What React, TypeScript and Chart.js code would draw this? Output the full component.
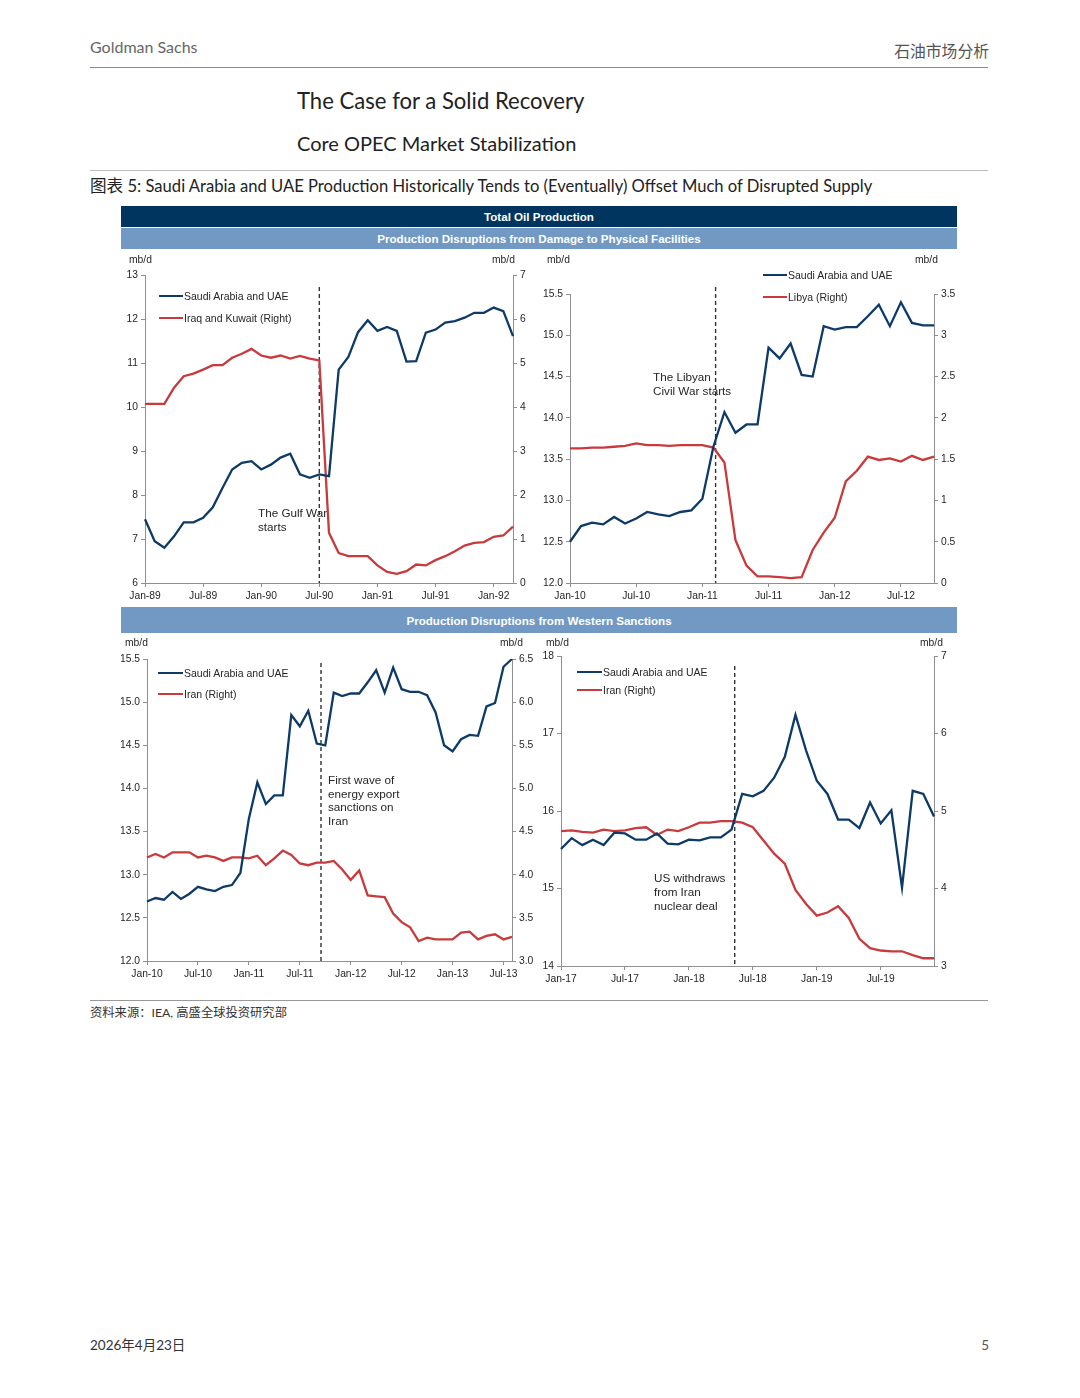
import React, { useEffect, useRef } from "react";
import { Chart, registerables } from "chart.js";

Chart.register(...registerables);

// ---------------- DATA ----------------
const gulfMonths = [
  "Jan-89","Feb-89","Mar-89","Apr-89","May-89","Jun-89","Jul-89","Aug-89","Sep-89","Oct-89","Nov-89","Dec-89",
  "Jan-90","Feb-90","Mar-90","Apr-90","May-90","Jun-90","Jul-90","Aug-90","Sep-90","Oct-90","Nov-90","Dec-90",
  "Jan-91","Feb-91","Mar-91","Apr-91","May-91","Jun-91","Jul-91","Aug-91","Sep-91","Oct-91","Nov-91","Dec-91",
  "Jan-92","Feb-92","Mar-92",
];
const gulfSaudiUae = [
  7.45, 6.95, 6.8, 7.06, 7.38, 7.38, 7.48, 7.72, 8.16, 8.58, 8.73, 8.77,
  8.58, 8.69, 8.85, 8.94, 8.47, 8.39, 8.47, 8.43, 10.85, 11.14, 11.7, 11.97,
  11.73, 11.82, 11.73, 11.03, 11.04, 11.69, 11.76, 11.92, 11.95, 12.03, 12.14, 12.14,
  12.26, 12.18, 11.61,
];
const gulfIraqKuwait = [
  4.07, 4.07, 4.07, 4.44, 4.7, 4.76, 4.85, 4.95, 4.95, 5.12, 5.21, 5.32,
  5.17, 5.12, 5.17, 5.1, 5.16, 5.1, 5.06, 1.14, 0.68, 0.61, 0.61, 0.61,
  0.4, 0.25, 0.21, 0.27, 0.42, 0.4, 0.52, 0.61, 0.72, 0.85, 0.91, 0.93,
  1.05, 1.08, 1.28,
];
const gulfLeftTicks = [6, 7, 8, 9, 10, 11, 12, 13];
const gulfRightTicks = [0, 1, 2, 3, 4, 5, 6, 7];
const gulfEvent = 18;

const libyaMonths = [
  "Jan-10","Feb-10","Mar-10","Apr-10","May-10","Jun-10","Jul-10","Aug-10","Sep-10","Oct-10","Nov-10","Dec-10",
  "Jan-11","Feb-11","Mar-11","Apr-11","May-11","Jun-11","Jul-11","Aug-11","Sep-11","Oct-11","Nov-11","Dec-11",
  "Jan-12","Feb-12","Mar-12","Apr-12","May-12","Jun-12","Jul-12","Aug-12","Sep-12","Oct-12",
];
const libyaSaudiUae = [
  12.5, 12.69, 12.73, 12.71, 12.8, 12.72, 12.78, 12.86, 12.83, 12.81, 12.86, 12.88,
  13.02, 13.65, 14.07, 13.82, 13.92, 13.92, 14.85, 14.72, 14.9, 14.52, 14.5, 15.11,
  15.07, 15.1, 15.1, 15.23, 15.37, 15.11, 15.4, 15.15, 15.12, 15.12,
];
const libyaLibya = [
  1.63, 1.63, 1.64, 1.64, 1.65, 1.66, 1.69, 1.67, 1.67, 1.66, 1.67, 1.67,
  1.67, 1.64, 1.46, 0.52, 0.21, 0.08, 0.08, 0.07, 0.06, 0.07, 0.4, 0.61,
  0.79, 1.23, 1.36, 1.53, 1.49, 1.51, 1.47, 1.54, 1.49, 1.53,
];
const libyaLeftTicks = [12, 12.5, 13, 13.5, 14, 14.5, 15, 15.5];
const libyaRightTicks = [0, 0.5, 1, 1.5, 2, 2.5, 3, 3.5];
const libyaEvent = 13.2;

const sanctionsMonths = [
  "Jan-10","Feb-10","Mar-10","Apr-10","May-10","Jun-10","Jul-10","Aug-10","Sep-10","Oct-10","Nov-10","Dec-10",
  "Jan-11","Feb-11","Mar-11","Apr-11","May-11","Jun-11","Jul-11","Aug-11","Sep-11","Oct-11","Nov-11","Dec-11",
  "Jan-12","Feb-12","Mar-12","Apr-12","May-12","Jun-12","Jul-12","Aug-12","Sep-12","Oct-12","Nov-12","Dec-12",
  "Jan-13","Feb-13","Mar-13","Apr-13","May-13","Jun-13","Jul-13","Aug-13",
];
const sanctionsSaudiUae = [
  12.69, 12.73, 12.71, 12.8, 12.72, 12.78, 12.86, 12.83, 12.81, 12.86, 12.88, 13.02,
  13.65, 14.07, 13.82, 13.92, 13.92, 14.85, 14.72, 14.9, 14.52, 14.5, 15.11, 15.07,
  15.1, 15.1, 15.23, 15.37, 15.11, 15.4, 15.15, 15.12, 15.12, 15.08, 14.88, 14.5,
  14.43, 14.57, 14.62, 14.61, 14.95, 14.99, 15.41, 15.5,
];
const sanctionsIran = [
  4.2, 4.24, 4.2, 4.26, 4.26, 4.26, 4.2, 4.22, 4.2, 4.16, 4.2, 4.2,
  4.19, 4.22, 4.11, 4.19, 4.28, 4.23, 4.13, 4.11, 4.14, 4.14, 4.16, 4.06,
  3.94, 4.05, 3.76, 3.75, 3.74, 3.55, 3.45, 3.39, 3.23, 3.27, 3.25, 3.25,
  3.25, 3.33, 3.34, 3.25, 3.29, 3.31, 3.25, 3.28,
];
const sanctionsLeftTicks = [12, 12.5, 13, 13.5, 14, 14.5, 15, 15.5];
const sanctionsRightTicks = [3, 3.5, 4, 4.5, 5, 5.5, 6, 6.5];
const sanctionsEvent = 20.5;

const dealMonths = [
  "Jan-17","Feb-17","Mar-17","Apr-17","May-17","Jun-17","Jul-17","Aug-17","Sep-17","Oct-17","Nov-17","Dec-17",
  "Jan-18","Feb-18","Mar-18","Apr-18","May-18","Jun-18","Jul-18","Aug-18","Sep-18","Oct-18","Nov-18","Dec-18",
  "Jan-19","Feb-19","Mar-19","Apr-19","May-19","Jun-19","Jul-19","Aug-19","Sep-19","Oct-19","Nov-19","Dec-19",
];
const dealSaudiUae = [
  15.51, 15.65, 15.56, 15.63, 15.56, 15.72, 15.71, 15.63, 15.63, 15.71, 15.58, 15.57,
  15.63, 15.62, 15.66, 15.66, 15.76, 16.22, 16.19, 16.26, 16.43, 16.7, 17.24, 16.78,
  16.39, 16.22, 15.89, 15.89, 15.78, 16.11, 15.84, 16.01, 15.01, 16.26, 16.22, 15.93,
];
const dealIran = [
  4.74, 4.75, 4.73, 4.72, 4.76, 4.74, 4.75, 4.78, 4.79, 4.69, 4.76, 4.74,
  4.79, 4.85, 4.85, 4.87, 4.87, 4.85, 4.79, 4.62, 4.45, 4.32, 3.98, 3.8,
  3.65, 3.69, 3.77, 3.62, 3.35, 3.23, 3.2, 3.19, 3.19, 3.14, 3.1, 3.1,
];
const dealLeftTicks = [14, 15, 16, 17, 18];
const dealRightTicks = [3, 4, 5, 6, 7];
const dealEvent = 16.3;

// ---------------- STYLE ----------------
const BLUE = "#0E3A68";
const RED = "#C83A3C";
const AXIS = "#8f8f8f";
const TXT = "#262626";
const CHART_FONT = "'Liberation Sans', Arial, Helvetica, sans-serif";
const PAGE_FONT = "Lato, 'Noto Sans CJK SC', sans-serif";

type Panel = {
  box: { x: number; y: number; w: number; h: number };
  padTop: number;
  leftW: number;
  rightW: number;
  bottomH: number;
  labels: string[];
  blue: number[];
  red: number[];
  leftTicks: number[];
  rightTicks: number[];
  leftFmt: (v: number) => string;
  rightFmt: (v: number) => string;
  event: number;
  dashTop: number;
};

const fix1 = (v: number) => v.toFixed(1);
const plain = (v: number) => String(v);

const panels: Panel[] = [
  {
    box: { x: 121, y: 250, w: 417, h: 355 },
    padTop: 25, leftW: 24, rightW: 25, bottomH: 22,
    labels: gulfMonths, blue: gulfSaudiUae, red: gulfIraqKuwait,
    leftTicks: gulfLeftTicks, rightTicks: gulfRightTicks,
    leftFmt: plain, rightFmt: plain, event: gulfEvent, dashTop: 287,
  },
  {
    box: { x: 538, y: 250, w: 420, h: 355 },
    padTop: 44, leftW: 32, rightW: 24, bottomH: 22,
    labels: libyaMonths, blue: libyaSaudiUae, red: libyaLibya,
    leftTicks: libyaLeftTicks, rightTicks: libyaRightTicks,
    leftFmt: fix1, rightFmt: plain, event: libyaEvent, dashTop: 287,
  },
  {
    box: { x: 121, y: 635, w: 417, h: 355 },
    padTop: 24, leftW: 26, rightW: 26, bottomH: 29,
    labels: sanctionsMonths, blue: sanctionsSaudiUae, red: sanctionsIran,
    leftTicks: sanctionsLeftTicks, rightTicks: sanctionsRightTicks,
    leftFmt: fix1, rightFmt: fix1, event: sanctionsEvent, dashTop: 663,
  },
  {
    box: { x: 538, y: 635, w: 420, h: 355 },
    padTop: 21, leftW: 23, rightW: 24, bottomH: 24,
    labels: dealMonths, blue: dealSaudiUae, red: dealIran,
    leftTicks: dealLeftTicks, rightTicks: dealRightTicks,
    leftFmt: plain, rightFmt: plain, event: dealEvent, dashTop: 666,
  },
];

function LineChart({ p }: { p: Panel }) {
  const ref = useRef<HTMLCanvasElement | null>(null);
  useEffect(() => {
    if (!ref.current) return;
    const font = { family: CHART_FONT, size: 10.3 };
    const grid = { display: true, drawOnChartArea: false, drawTicks: true, tickLength: 4, color: AXIS, lineWidth: 1 };
    const border = { display: true, color: AXIS, width: 1 };
    const eventLine = {
      id: "eventLine",
      beforeDatasetsDraw(chart: any) {
        const x = chart.scales.x.getPixelForValue(p.event);
        const c = chart.ctx;
        c.save();
        c.strokeStyle = "#333";
        c.lineWidth = 1.4;
        c.setLineDash([4, 3]);
        c.beginPath();
        c.moveTo(x, p.dashTop - p.box.y);
        c.lineTo(x, chart.chartArea.bottom);
        c.stroke();
        c.restore();
      },
    };
    const chart = new Chart(ref.current, {
      type: "line",
      data: {
        labels: p.labels,
        datasets: [
          { data: p.blue, yAxisID: "y", borderColor: BLUE, backgroundColor: BLUE, borderWidth: 2.3, pointRadius: 0, tension: 0 },
          { data: p.red, yAxisID: "y1", borderColor: RED, backgroundColor: RED, borderWidth: 2.3, pointRadius: 0, tension: 0 },
        ],
      },
      options: {
        animation: false,
        responsive: true,
        maintainAspectRatio: false,
        events: [],
        layout: { padding: { top: p.padTop, left: 0, right: 0, bottom: 0 } },
        plugins: { legend: { display: false }, tooltip: { enabled: false } },
        scales: {
          x: {
            type: "category",
            offset: false,
            grid,
            border,
            ticks: {
              autoSkip: false,
              maxRotation: 0,
              minRotation: 0,
              padding: 2.5,
              color: TXT,
              font,
              callback: (_v: any, i: number) => (i % 6 === 0 ? p.labels[i] : null),
            },
            afterFit: (s: any) => { s.height = p.bottomH; },
          },
          y: {
            type: "linear",
            position: "left",
            min: p.leftTicks[0],
            max: p.leftTicks[p.leftTicks.length - 1],
            grid,
            border,
            afterBuildTicks: (s: any) => { s.ticks = p.leftTicks.map((v) => ({ value: v })); },
            ticks: { padding: 3, color: TXT, font, callback: (v: any) => p.leftFmt(Number(v)) },
            afterFit: (s: any) => { s.width = p.leftW; },
          },
          y1: {
            type: "linear",
            position: "right",
            min: p.rightTicks[0],
            max: p.rightTicks[p.rightTicks.length - 1],
            grid,
            border,
            afterBuildTicks: (s: any) => { s.ticks = p.rightTicks.map((v) => ({ value: v })); },
            ticks: { padding: 3, color: TXT, font, callback: (v: any) => p.rightFmt(Number(v)) },
            afterFit: (s: any) => { s.width = p.rightW; },
          },
        },
      } as any,
      plugins: [eventLine],
    });
    return () => chart.destroy();
  }, []);
  return (
    <div style={{ position: "absolute", left: p.box.x, top: p.box.y, width: p.box.w, height: p.box.h }}>
      <canvas ref={ref} />
    </div>
  );
}

function Txt(props: {
  x: number; y: number; size: number; children: React.ReactNode;
  color?: string; font?: string; weight?: number; right?: boolean;
}) {
  const { x, y, size, children, color = TXT, font = CHART_FONT, weight = 400, right = false } = props;
  const style: React.CSSProperties = {
    position: "absolute",
    top: y - size * 0.6,
    fontSize: size,
    lineHeight: `${size * 1.2}px`,
    fontFamily: font,
    fontWeight: weight,
    color,
    whiteSpace: "nowrap",
  };
  if (right) style.right = 1080 - x;
  else style.left = x;
  return <div style={style}>{children}</div>;
}

function Legend({ x, y, w, color, text }: { x: number; y: number; w: number; color: string; text: string }) {
  return (
    <>
      <div style={{ position: "absolute", left: x, top: y - 1.15, width: w, height: 2.3, background: color }} />
      <Txt x={x + w + 1} y={y} size={10.5}>{text}</Txt>
    </>
  );
}

function Rule({ y, color }: { y: number; color: string }) {
  return <div style={{ position: "absolute", left: 90, top: y, width: 898, height: 1, background: color }} />;
}

function Banner({ y, h, bg, text }: { y: number; h: number; bg: string; text: string }) {
  return (
    <div
      style={{
        position: "absolute", left: 121, top: y, width: 836, height: h, background: bg,
        display: "flex", alignItems: "center", justifyContent: "center",
        color: "#fff", fontFamily: CHART_FONT, fontWeight: 700, fontSize: 11.6,
      }}
    >
      {text}
    </div>
  );
}

export default function App() {
  return (
    <div style={{ position: "absolute", left: 0, top: 0, width: 1080, height: 1398, background: "#fff", overflow: "hidden" }}>
      <Txt x={90} y={47} size={16} color="#666" font={PAGE_FONT}>Goldman Sachs</Txt>
      <Txt x={989} y={51} size={15.8} color="#555" font={PAGE_FONT} right>石油市场分析</Txt>
      <Rule y={67} color="#8a8a8a" />
      <Txt x={297} y={101} size={22.1} color="#222" font={PAGE_FONT}>The Case for a Solid Recovery</Txt>
      <Txt x={297} y={143} size={20} color="#222" font={PAGE_FONT}>Core OPEC Market Stabilization</Txt>
      <Rule y={170} color="#bdbdbd" />
      <Txt x={90} y={187} size={16.6} color="#222" font={PAGE_FONT}>
        图表 5: Saudi Arabia and UAE Production Historically Tends to (Eventually) Offset Much of Disrupted Supply
      </Txt>

      <Banner y={206} h={21} bg="#00355F" text="Total Oil Production" />
      <Banner y={228} h={21} bg="#7199C4" text="Production Disruptions from Damage to Physical Facilities" />
      <Banner y={607} h={26} bg="#7199C4" text="Production Disruptions from Western Sanctions" />

      {panels.map((p, i) => (
        <LineChart key={i} p={p} />
      ))}

      {/* axis unit labels */}
      <Txt x={129} y={260} size={10.3}>mb/d</Txt>
      <Txt x={492} y={260} size={10.3}>mb/d</Txt>
      <Txt x={547} y={260} size={10.3}>mb/d</Txt>
      <Txt x={915} y={260} size={10.3}>mb/d</Txt>
      <Txt x={125} y={643} size={10.3}>mb/d</Txt>
      <Txt x={500} y={643} size={10.3}>mb/d</Txt>
      <Txt x={546} y={643} size={10.3}>mb/d</Txt>
      <Txt x={920} y={643} size={10.3}>mb/d</Txt>

      {/* legends */}
      <Legend x={159} y={296} w={24} color={BLUE} text="Saudi Arabia and UAE" />
      <Legend x={159} y={318} w={24} color={RED} text="Iraq and Kuwait (Right)" />
      <Legend x={763} y={275} w={24} color={BLUE} text="Saudi Arabia and UAE" />
      <Legend x={763} y={297} w={24} color={RED} text="Libya (Right)" />
      <Legend x={158} y={673} w={25} color={BLUE} text="Saudi Arabia and UAE" />
      <Legend x={158} y={694} w={25} color={RED} text="Iran (Right)" />
      <Legend x={577} y={672} w={25} color={BLUE} text="Saudi Arabia and UAE" />
      <Legend x={577} y={690} w={25} color={RED} text="Iran (Right)" />

      {/* annotations */}
      <Txt x={258} y={513} size={11.7}>The Gulf War</Txt>
      <Txt x={258} y={527} size={11.7}>starts</Txt>
      <Txt x={653} y={377} size={11.7}>The Libyan</Txt>
      <Txt x={653} y={391.5} size={11.7}>Civil War starts</Txt>
      <Txt x={328} y={780.5} size={11.7}>First wave of</Txt>
      <Txt x={328} y={794} size={11.7}>energy export</Txt>
      <Txt x={328} y={807.5} size={11.7}>sanctions on</Txt>
      <Txt x={328} y={821} size={11.7}>Iran</Txt>
      <Txt x={654} y={878.5} size={11.7}>US withdraws</Txt>
      <Txt x={654} y={892.5} size={11.7}>from Iran</Txt>
      <Txt x={654} y={906} size={11.7}>nuclear deal</Txt>

      <Rule y={1000} color="#999" />
      <Txt x={90} y={1013} size={12.3} color="#333" font={PAGE_FONT}>资料来源：IEA, 高盛全球投资研究部</Txt>

      <Txt x={90} y={1345} size={13.5} color="#333" font={PAGE_FONT}>2026年4月23日</Txt>
      <Txt x={989} y={1345} size={13.5} color="#555" font={PAGE_FONT} right>5</Txt>
    </div>
  );
}
